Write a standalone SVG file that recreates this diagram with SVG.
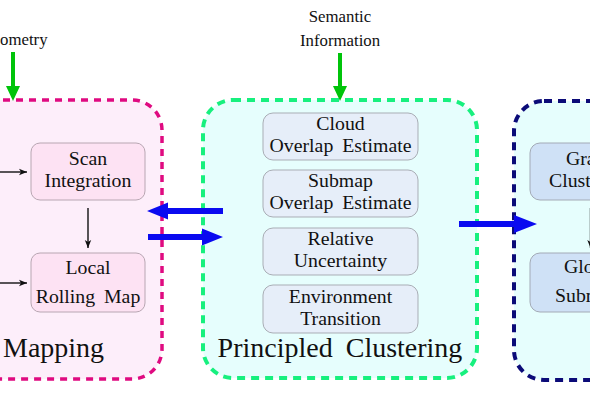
<svg xmlns="http://www.w3.org/2000/svg" width="590" height="400" viewBox="0 0 590 400">
<defs>
<style>
text{font-family:"Liberation Serif","Times New Roman",serif;fill:#111;}
.n{font-size:19.8px;text-anchor:middle;word-spacing:4px;}
.ns{font-size:19.8px;word-spacing:4px;}
.s{font-size:16.8px;text-anchor:middle;}
.big{font-size:28px;word-spacing:6px;}
.pn{fill:#fde2f3;stroke:#b8a6b2;stroke-width:1;}
.gn{fill:#e6eef9;stroke:#a9adb5;stroke-width:1;}
.bn{fill:#cfe1f6;stroke:#a3aab6;stroke-width:1;}
.blk{stroke:#111;stroke-width:1.4;fill:none;marker-end:url(#ah);}
.grn{fill:#00c40a;}
.blu{fill:#0a0af0;}
</style>
<marker id="ah" viewBox="0 0 10 10" refX="10" refY="5" markerWidth="8" markerHeight="8" markerUnits="userSpaceOnUse" orient="auto">
<path d="M0,1 L10,5 L0,9 L2.5,5 z" fill="#111"/>
</marker>
</defs>

<g id="mapping">
<rect x="-40" y="100" width="202" height="279" rx="30" fill="#fdeefa" stroke="#df0a80" stroke-width="3.5" stroke-dasharray="7 6"/>
<text class="big" x="3" y="357">Mapping</text>
</g>
<g id="clustering">
<rect x="203" y="100" width="274" height="278" rx="30" fill="#e6fefd" stroke="#17f07e" stroke-width="4" stroke-dasharray="8 6"/>
<text class="big" x="340" y="357" text-anchor="middle">Principled Clustering</text>
</g>
<g id="right-group">
<rect x="514" y="101" width="130" height="279" rx="30" fill="#e6fefd" stroke="#0b0b78" stroke-width="4" stroke-dasharray="8 6"/>
</g>

<g id="odometry"><text class="s" x="0" y="45" style="text-anchor:start">ometry</text></g>
<g id="semantic"><text class="s" x="340" y="22">Semantic</text><text class="s" x="340" y="46">Information</text></g>

<g id="scan-integration">
<rect class="pn" x="31" y="143" width="114" height="57" rx="9"/>
<text class="n" x="88" y="165">Scan</text><text class="n" x="88" y="187">Integration</text>
</g>
<g id="local-rolling-map">
<rect class="pn" x="31" y="253" width="114" height="59" rx="9"/>
<text class="n" x="88" y="274">Local</text><text class="n" x="88" y="303">Rolling Map</text>
</g>

<g id="cloud-overlap">
<rect class="gn" x="263" y="113" width="155" height="47" rx="10"/>
<text class="n" x="340.5" y="130">Cloud</text><text class="n" x="340.5" y="152">Overlap Estimate</text>
</g>
<g id="submap-overlap">
<rect class="gn" x="263" y="170" width="155" height="47" rx="10"/>
<text class="n" x="340.5" y="187">Submap</text><text class="n" x="340.5" y="209">Overlap Estimate</text>
</g>
<g id="relative-uncertainty">
<rect class="gn" x="263" y="228" width="155" height="47" rx="10"/>
<text class="n" x="340.5" y="245">Relative</text><text class="n" x="340.5" y="267">Uncertainty</text>
</g>
<g id="environment-transition">
<rect class="gn" x="263" y="285" width="155" height="48" rx="10"/>
<text class="n" x="340.5" y="303">Environment</text><text class="n" x="340.5" y="325">Transition</text>
</g>

<g id="graph-clustering">
<rect class="bn" x="530" y="143" width="116" height="57" rx="10"/>
<text class="ns" x="566" y="165">Gra</text><text class="ns" x="549" y="187">Clust</text>
</g>
<g id="global-submap">
<rect class="bn" x="530" y="253" width="116" height="59" rx="10"/>
<text class="ns" x="564" y="273">Glo</text><text class="ns" x="555" y="302">Subm</text>
</g>

<g id="connectors">
<line class="blk" x1="-5" y1="172" x2="27" y2="172"/>
<line class="blk" x1="-5" y1="283" x2="27" y2="283"/>
<line class="blk" x1="88" y1="208" x2="88" y2="248"/>
<line class="blk" x1="590.5" y1="208" x2="590.5" y2="248"/>
<rect class="grn" x="11" y="52" width="4" height="36"/>
<polygon class="grn" points="6,86 20,86 13,101"/>
<rect class="grn" x="338" y="53" width="4" height="35"/>
<polygon class="grn" points="333,86 347,86 340,101"/>
<polygon class="blu" points="147,211 168,202.5 168,208 223,208 223,214 168,214 168,219.5"/>
<polygon class="blu" points="223,237 202,228.5 202,234 148,234 148,240 202,240 202,245.5"/>
<polygon class="blu" points="537,224 514,215 514,221 459,221 459,227 514,227 514,233"/>
</g>
</svg>
